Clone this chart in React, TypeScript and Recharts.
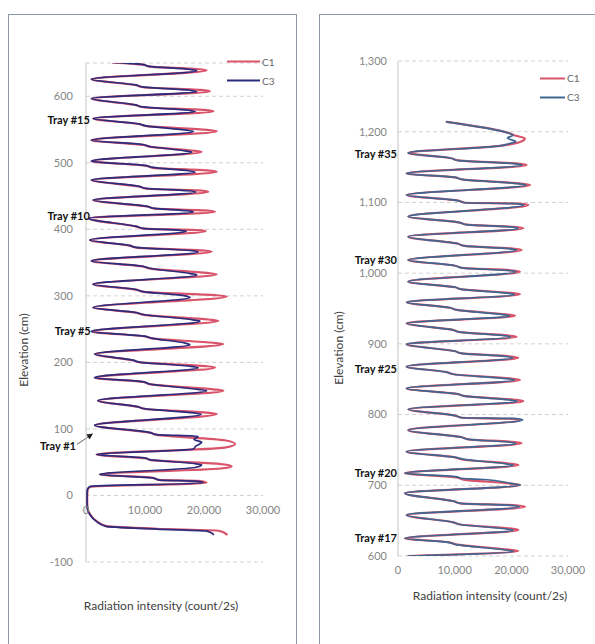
import React from 'react';
import {
  ScatterChart,
  Scatter,
  XAxis,
  YAxis,
  CartesianGrid,
  ReferenceDot,
  ReferenceLine,
  Legend,
} from 'recharts';

// ---------- data ----------
const seriesNames = ['C1', 'C3'];
const xTicks = [0, 10000, 20000, 30000];
const leftYTicks = [-100, 0, 100, 200, 300, 400, 500, 600];
const rightYTicks = [600, 700, 800, 900, 1000, 1100, 1200, 1300];

const leftTrayNames = ['Tray #1', 'Tray #5', 'Tray #10', 'Tray #15'];
const leftTrayElevation = [74, 246.5, 420, 564];
const leftTrayIntensity = [-1700, 800, 650, 650];
const rightTrayNames = ['Tray #17', 'Tray #20', 'Tray #25', 'Tray #30', 'Tray #35'];
const rightTrayElevation = [625, 717, 864, 1018.6, 1168.5];

// [intensity (count/2s), elevation (cm)]
const leftC1: [number, number][] = [
  [23850, -58.5], [22500, -53], [12000, -50], [3500, -46], [1800, -38.5], [700, -28.5], [250, -18], [200, -5], [250, 8], [700, 13],
  [20450, 19], [19000, 22], [12300, 23.5], [11100, 27], [2370, 31.5],
  [22800, 40.5], [24700, 44], [22500, 47.5], [11000, 53], [10000, 56], [1810, 61.5],
  [23500, 72], [25260, 77.5], [23500, 83], [12000, 91], [11000, 94], [1525, 105.5],
  [22150, 122.5], [20500, 124.5], [10000, 130], [8900, 133], [2090, 142.5],
  [23280, 157.5], [21600, 159.5], [10900, 167], [9700, 170.5], [1500, 177],
  [21860, 192.5], [20200, 194.5], [9200, 200], [8000, 203], [1525, 212.5],
  [23280, 227.5], [21600, 229.5], [11200, 236], [10000, 239], [960, 246.5],
  [22430, 262.5], [20800, 264.5], [9800, 271.5], [8600, 274.5], [1240, 282.5],
  [23850, 299], [22000, 301], [9800, 306], [8600, 309], [1240, 317.5],
  [22150, 332.5], [20500, 334.5], [10900, 341], [9700, 344], [960, 352.5],
  [21300, 366.5], [19600, 368.5], [8600, 372.5], [7400, 375.5], [680, 384],
  [20300, 397.5], [18700, 399], [9800, 401], [8600, 404], [500, 416.5],
  [21860, 426.5], [20200, 428.5], [11700, 431], [10500, 434], [1240, 444],
  [20730, 456.5], [19100, 458.5], [10300, 461], [9100, 464], [960, 474],
  [22150, 486.5], [20500, 488.5], [11400, 492.5], [10200, 495.5], [960, 502.5],
  [19600, 516.5], [18000, 518.5], [10900, 524], [9700, 527], [960, 534],
  [22150, 547.5], [20500, 549.5], [10300, 555], [9100, 558], [1240, 566.5],
  [21600, 577.5], [20000, 579.5], [9700, 583.5], [8500, 586.5], [960, 596.5],
  [21000, 607.5], [19400, 609.5], [9700, 613.5], [8500, 616.5], [960, 625.5],
  [20450, 639], [18800, 641], [10800, 644.5], [9600, 647.5], [4500, 651],
];

const leftC3: [number, number][] = [
  [21600, -58.5], [20500, -53.5], [12000, -50.5], [3400, -46.5], [1700, -38.5], [650, -28.5], [220, -18], [180, -5], [220, 8], [650, 13.5],
  [19900, 19], [18600, 21.5], [12500, 23], [11300, 26.5], [2300, 31.5],
  [18500, 42], [19600, 46], [18300, 48], [11000, 53.5], [9900, 56.5], [1750, 61.5],
  [18200, 70], [18600, 74], [19600, 80], [18300, 84], [19000, 89], [12000, 91.5], [10900, 94.5], [1450, 105.5],
  [19500, 122], [18300, 124], [9900, 130.5], [8700, 133.5], [2000, 142.5],
  [20450, 157.5], [19000, 159.5], [10800, 167.5], [9600, 171], [1450, 177],
  [19000, 192], [17800, 194], [9100, 200.5], [7900, 203.5], [1450, 212.5],
  [17600, 226.5], [16800, 229], [11100, 236.5], [9900, 239.5], [900, 246.5],
  [19300, 262], [18100, 264], [9700, 272], [8500, 275], [1200, 282.5],
  [17630, 297.5], [16800, 300], [9700, 306.5], [8500, 309.5], [1200, 317.5],
  [18760, 331.5], [17700, 333.5], [10800, 341.5], [9600, 344.5], [900, 352.5],
  [19000, 366], [17900, 368], [8500, 373], [7300, 376], [650, 384],
  [17000, 397], [15900, 398.5], [9700, 401.5], [8500, 404.5], [450, 416.5],
  [18200, 426], [17100, 428], [11600, 431.5], [10400, 434.5], [1200, 444],
  [18600, 456], [17500, 458], [10200, 461.5], [9000, 464.5], [900, 474],
  [18500, 486], [17400, 488], [11300, 493], [10100, 496], [900, 502.5],
  [17900, 516], [16800, 518], [10800, 524.5], [9600, 527.5], [900, 534],
  [18200, 547], [17100, 549], [10200, 555.5], [9000, 558.5], [1200, 566.5],
  [18500, 577], [17400, 579], [9600, 584], [8400, 587], [900, 596.5],
  [18760, 607], [17600, 609], [9600, 614], [8400, 617], [900, 625.5],
  [18760, 638.5], [17600, 640.5], [10700, 645], [9500, 648], [4500, 651],
];

const rightC1: [number, number][] = [
  [1820, 600],
  [21230, 607], [19600, 609], [10200, 616.5], [9000, 619.5], [1230, 625],
  [21230, 636.8], [19600, 639], [11000, 644.5], [9800, 647.5], [1530, 658],
  [22400, 669.7], [20800, 671.7], [11000, 674.5], [9800, 677.5], [1230, 688.7],
  [21520, 700.4], [19900, 702.4], [11600, 708], [10400, 711], [1230, 717],
  [21230, 728.7], [19600, 730.7], [11300, 736.5], [10100, 739.5], [1530, 747.6],
  [21820, 759.4], [20200, 761.4], [12400, 765], [11200, 768], [1820, 778],
  [21520, 792], [19900, 794], [11300, 795.5], [10100, 798.5], [1820, 807.5],
  [22100, 819], [20500, 821], [11800, 826], [10600, 829], [1530, 837],
  [21520, 849], [19900, 851], [9800, 857], [8600, 860], [1530, 867.8],
  [21230, 880.5], [19600, 882.5], [11300, 886.5], [10100, 889.5], [1530, 899.4],
  [20940, 910], [19300, 912], [11000, 916.5], [9800, 919.5], [1530, 929],
  [20640, 939.8], [19000, 941.8], [10400, 948], [9200, 951], [1530, 958.8],
  [21520, 970], [19900, 972], [11300, 977], [10100, 980], [1820, 988],
  [21520, 1002], [19900, 1004], [11300, 1007.5], [10100, 1010.5], [1820, 1018.6],
  [21820, 1032.8], [20200, 1034.8], [11800, 1038.5], [10600, 1041.5], [1820, 1051.6],
  [22100, 1063.5], [20500, 1065.5], [12100, 1068.5], [10900, 1071.5], [1820, 1080],
  [23000, 1096.4], [21400, 1098.4], [11800, 1099.5], [10600, 1102.5], [1530, 1110.5],
  [23300, 1124.7], [21700, 1126.7], [11300, 1132.5], [10100, 1135.5], [1530, 1141],
  [22700, 1153], [21100, 1155], [10600, 1159.5], [9400, 1162.5], [1820, 1170],
  [18000, 1180], [21000, 1184], [22400, 1190.5], [20500, 1195], [19460, 1198.6], [8590, 1214],
];

const rightC3: [number, number][] = [
  [1820, 600],
  [20300, 606.5], [18900, 608.5], [10300, 616], [9000, 619], [1200, 625],
  [20300, 636.5], [18900, 638.5], [11000, 644.5], [9800, 647.5], [1500, 658],
  [21400, 669.5], [20000, 671.5], [11000, 674.5], [9800, 677.5], [1200, 688.7],
  [21600, 700.4], [20200, 702.4], [14400, 708.5], [11000, 710], [10400, 712], [1200, 717],
  [20300, 728.5], [18900, 730.5], [11500, 737], [10100, 739.5], [1500, 747.6],
  [20800, 759.2], [19400, 761.2], [12400, 765], [11200, 768], [1800, 778],
  [22000, 792.5], [20500, 794.5], [11300, 795.5], [10100, 798.5], [1800, 807.5],
  [21000, 818.8], [19600, 820.8], [11800, 826], [10600, 829], [1500, 837],
  [20600, 848.8], [19200, 850.8], [9800, 857], [8600, 860], [1500, 867.8],
  [20300, 880.3], [18900, 882.3], [11300, 886.5], [10100, 889.5], [1500, 899.4],
  [19900, 909.8], [18500, 911.8], [11000, 916.5], [9800, 919.5], [1500, 929],
  [19700, 939.6], [18300, 941.6], [10400, 948], [9200, 951], [1500, 958.8],
  [20600, 969.8], [19200, 971.8], [11300, 977], [10100, 980], [1800, 988],
  [20800, 1001.8], [19400, 1003.8], [11300, 1007.5], [10100, 1010.5], [1800, 1018.6],
  [20900, 1032.6], [19500, 1034.6], [11800, 1038.5], [10600, 1041.5], [1800, 1051.6],
  [21200, 1063.3], [19800, 1065.3], [12100, 1068.5], [10900, 1071.5], [1800, 1080],
  [22200, 1096.2], [20800, 1098.2], [11800, 1099.5], [10600, 1102.5], [1500, 1110.5],
  [22600, 1124.5], [21200, 1126.5], [11300, 1132.5], [10100, 1135.5], [1500, 1141],
  [21900, 1152.8], [20500, 1154.8], [10600, 1159.5], [9400, 1162.5], [1800, 1170],
  [18000, 1180], [19600, 1183], [20800, 1186], [19300, 1191], [20300, 1195], [19300, 1198.6], [8590, 1214],
];

// ---------- helpers ----------
const toPoints = (pts: [number, number][]) => pts.map(([x, y]) => ({ x, y }));
const fmt = (v: number) => v.toLocaleString('en-US');
const NoShape = () => <g />;

const FONT = 'Lato, "Open Sans", sans-serif';
const C1_COLOR = '#d9546a';
const C3_LEFT = '#2c2c7c';
const C3_RIGHT = '#3f6690';
const TICK_STYLE = { fill: '#868686', fontSize: 11 };
const GRID_COLOR = '#d2d2d2';
const AXIS_COLOR = '#c4c4c4';

const makeLegend = (lineLen: number) => (props: any) => {
  const payload = props.payload || [];
  return (
    <div style={{ fontSize: 10, color: '#666', fontFamily: FONT }}>
      {payload.map((e: any) => (
        <div key={e.value} style={{ display: 'flex', alignItems: 'center', height: 19 }}>
          <svg width={lineLen} height={19} style={{ display: 'block' }}>
            <line x1={0} x2={lineLen} y1={9.5} y2={9.5} stroke={e.color} strokeWidth={2} />
          </svg>
          <span style={{ marginLeft: 2 }}>{e.value}</span>
        </div>
      ))}
    </div>
  );
};

const ArrowHead = (p: any) => (
  <path d={`M${p.cx},${p.cy} L${p.cx - 3.4},${p.cy + 5.8} L${p.cx - 6.7},${p.cy + 0.8} Z`} fill="#222" />
);

const trayLabel = (name: string, offset: number) => ({
  value: name,
  position: 'left' as const,
  offset,
  fill: '#111',
  fontSize: 11,
  fontWeight: 700,
});

const axisTitle: React.CSSProperties = {
  position: 'absolute',
  fontSize: 12,
  color: '#404040',
  whiteSpace: 'nowrap',
  fontFamily: FONT,
};

const seriesLine = (color: string, w: number) => ({
  stroke: color,
  strokeWidth: w,
  strokeLinejoin: 'round' as const,
  strokeLinecap: 'round' as const,
});

function LeftChart() {
  return (
    <ScatterChart width={296} height={644} margin={{ top: 63, right: 33, bottom: 82, left: 26 }}>
      <CartesianGrid vertical={false} stroke={GRID_COLOR} strokeDasharray="4 3" />
      <XAxis type="number" dataKey="x" domain={[0, 30000]} ticks={xTicks} hide />
      <YAxis
        type="number"
        dataKey="y"
        domain={[-100, 650]}
        ticks={leftYTicks}
        allowDataOverflow
        width={60}
        tickLine={false}
        tickMargin={7}
        axisLine={{ stroke: AXIS_COLOR }}
        tick={TICK_STYLE}
      />
      {xTicks.map((v) => (
        <ReferenceDot
          key={v}
          x={v}
          y={0}
          r={0}
          fill="none"
          stroke="none"
          label={{ value: fmt(v), position: 'bottom', offset: 11, fill: '#868686', fontSize: 11 }}
        />
      ))}
      <Scatter name={seriesNames[0]} data={toPoints(leftC1)} fill={C1_COLOR} line={seriesLine(C1_COLOR, 2.2)} lineJointType="monotoneY" shape={NoShape} legendType="plainline" isAnimationActive={false} />
      <Scatter name={seriesNames[1]} data={toPoints(leftC3)} fill={C3_LEFT} line={seriesLine(C3_LEFT, 1.7)} lineJointType="monotoneY" shape={NoShape} legendType="plainline" isAnimationActive={false} />
      {leftTrayNames.map((n, i) => (
        <ReferenceDot
          key={n}
          x={leftTrayIntensity[i]}
          y={leftTrayElevation[i]}
          r={0}
          fill="none"
          stroke="none"
          ifOverflow="visible"
          label={trayLabel(n, 0)}
        />
      ))}
      <ReferenceLine
        segment={[{ x: -1500, y: 77 }, { x: 900, y: 91 }]}
        stroke="#333"
        strokeWidth={0.8}
        ifOverflow="visible"
      />
      <ReferenceDot x={1190} y={93} r={3} ifOverflow="visible" shape={ArrowHead} />
      <Legend
        layout="horizontal"
        verticalAlign="middle"
        align="center"
        width={60}
        wrapperStyle={{ left: 227, top: 52, width: 60 }}
        content={makeLegend(33)}
      />
    </ScatterChart>
  );
}

function RightChart() {
  return (
    <ScatterChart width={295} height={644} margin={{ top: 61, right: 27, bottom: 58, left: 38 }}>
      <CartesianGrid vertical={false} stroke={GRID_COLOR} strokeDasharray="4 3" />
      <XAxis
        type="number"
        dataKey="x"
        domain={[0, 30000]}
        ticks={xTicks}
        height={30}
        tickLine={false}
        tickMargin={4}
        axisLine={false}
        tick={TICK_STYLE}
        tickFormatter={fmt}
      />
      <YAxis
        type="number"
        dataKey="y"
        domain={[600, 1300]}
        ticks={rightYTicks}
        allowDataOverflow
        width={60}
        tickLine={false}
        tickMargin={5}
        axisLine={{ stroke: AXIS_COLOR }}
        tick={TICK_STYLE}
        tickFormatter={fmt}
      />
      <Scatter name={seriesNames[0]} data={toPoints(rightC1)} fill={C1_COLOR} line={seriesLine(C1_COLOR, 2.2)} lineJointType="monotoneY" shape={NoShape} legendType="plainline" isAnimationActive={false} />
      <Scatter name={seriesNames[1]} data={toPoints(rightC3)} fill={C3_RIGHT} line={seriesLine(C3_RIGHT, 1.7)} lineJointType="monotoneY" shape={NoShape} legendType="plainline" isAnimationActive={false} />
      {rightTrayNames.map((n, i) => (
        <ReferenceDot
          key={n}
          x={0}
          y={rightTrayElevation[i]}
          r={0}
          fill="none"
          stroke="none"
          ifOverflow="visible"
          label={trayLabel(n, 1)}
        />
      ))}
      <Legend
        layout="horizontal"
        verticalAlign="middle"
        align="center"
        width={50}
        wrapperStyle={{ left: 240, top: 68.5, width: 50 }}
        content={makeLegend(25)}
      />
    </ScatterChart>
  );
}

export default function App() {
  return (
    <div
      style={{
        position: 'absolute',
        left: 0,
        top: 0,
        width: 595,
        height: 644,
        overflow: 'hidden',
        background: '#fff',
        fontFamily: FONT,
      }}
    >
      <div
        style={{
          position: 'absolute',
          left: 8,
          top: 14,
          width: 289,
          height: 630,
          boxSizing: 'border-box',
          border: '1px solid #8e98a4',
          borderBottom: 'none',
        }}
      />
      <div
        style={{
          position: 'absolute',
          left: 319,
          top: 14,
          width: 276,
          height: 630,
          boxSizing: 'border-box',
          border: '1px solid #8e98a4',
          borderBottom: 'none',
          borderRight: 'none',
        }}
      />
      <div style={{ position: 'absolute', left: 0, top: 0 }}>
        <LeftChart />
      </div>
      <div style={{ position: 'absolute', left: 300, top: 0 }}>
        <RightChart />
      </div>
      <div style={{ ...axisTitle, left: 23, top: 350, transform: 'translate(-50%, -50%) rotate(-90deg)' }}>
        Elevation (cm)
      </div>
      <div style={{ ...axisTitle, left: 338, top: 348, transform: 'translate(-50%, -50%) rotate(-90deg)' }}>
        Elevation (cm)
      </div>
      <div style={{ ...axisTitle, left: 161, top: 605, transform: 'translate(-50%, -50%)' }}>
        Radiation intensity (count/2s)
      </div>
      <div style={{ ...axisTitle, left: 490, top: 595, transform: 'translate(-50%, -50%)' }}>
        Radiation intensity (count/2s)
      </div>
    </div>
  );
}
